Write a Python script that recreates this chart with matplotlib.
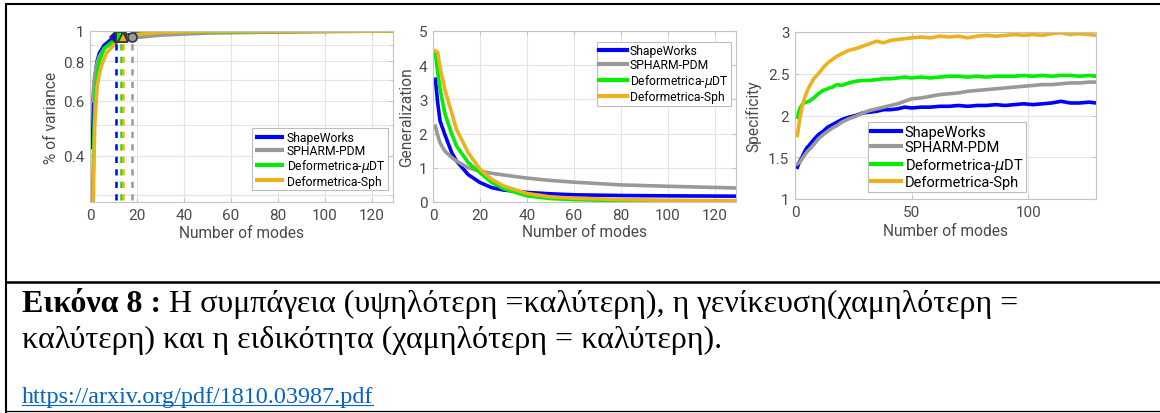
import matplotlib
matplotlib.use('Agg')
import matplotlib.pyplot as plt
import matplotlib.ticker as mticker

# ---------------- data ----------------
series_names = ['ShapeWorks', 'SPHARM-PDM', 'Deformetrica-$\\mu$DT', 'Deformetrica-Sph']
series_colors = ['#0000ff', '#999999', '#00ee00', '#edb120']

# compactness: cumulative % of variance vs number of modes
comp_x_sw = [1, 1.5, 2, 3, 4, 6, 9, 11, 14, 20, 30, 50, 129]
comp_y_sw = [0.42, 0.60, 0.70, 0.80, 0.85, 0.90, 0.94, 0.955, 0.965, 0.98, 0.99, 0.997, 1.0]
comp_x_sp = [1, 2, 3, 4, 6, 10, 18, 30, 50, 70, 100, 129]
comp_y_sp = [0.59, 0.72, 0.79, 0.83, 0.88, 0.92, 0.95, 0.97, 0.985, 0.99, 0.995, 1.0]
comp_x_mu = [1, 2, 3, 4, 6, 10, 13, 20, 30, 50, 129]
comp_y_mu = [0.28, 0.58, 0.72, 0.80, 0.88, 0.93, 0.95, 0.975, 0.99, 0.995, 1.0]
comp_x_sph = [1, 2, 3, 4, 5, 7, 10, 12, 14, 20, 30, 50, 129]
comp_y_sph = [0.20, 0.50, 0.66, 0.73, 0.78, 0.85, 0.90, 0.93, 0.95, 0.975, 0.99, 0.997, 1.0]
# modes needed to reach 95 % of variance
cut_modes = [11, 18, 13, 14]
cut_level = 0.955
cut_markers = ['D', 'o', 's', '^']

# generalization
gen_x = [1, 2, 3, 5, 8, 10, 15, 20, 25, 30, 40, 50, 60, 80, 100, 129]
gen_sw = [3.59, 2.90, 2.37, 1.98, 1.44, 1.20, 0.80, 0.57, 0.42, 0.35, 0.28, 0.24, 0.21, 0.19, 0.18, 0.17]
gen_sp = [2.22, 1.95, 1.73, 1.49, 1.30, 1.20, 1.00, 0.90, 0.84, 0.79, 0.70, 0.63, 0.58, 0.50, 0.46, 0.41]
gen_mu = [4.35, 3.80, 3.30, 2.60, 1.98, 1.64, 1.15, 0.86, 0.57, 0.39, 0.18, 0.10, 0.07, 0.04, 0.02, 0.01]
gen_sph = [4.42, 4.37, 3.93, 3.30, 2.60, 2.12, 1.44, 0.96, 0.66, 0.47, 0.25, 0.15, 0.11, 0.07, 0.05, 0.04]

# specificity
spec_x = [1, 2, 3, 4, 5, 6, 8, 10, 12, 14, 16, 18, 20, 23, 26, 29, 32, 35, 38, 41, 44, 47,
          50, 54, 58, 62, 66, 70, 74, 78, 82, 86, 90, 94, 98, 102, 106, 110, 114, 118, 122, 126, 129]
spec_sw = [1.38, 1.45, 1.50, 1.56, 1.61, 1.64, 1.71, 1.77, 1.81, 1.86, 1.89, 1.92, 1.95, 1.98, 2.00,
           2.03, 2.04, 2.05, 2.07, 2.07, 2.08, 2.10, 2.09, 2.10, 2.10, 2.11, 2.11, 2.12, 2.11, 2.12,
           2.12, 2.13, 2.12, 2.13, 2.14, 2.13, 2.14, 2.15, 2.17, 2.15, 2.15, 2.16, 2.15]
spec_sp = [1.42, 1.44, 1.48, 1.52, 1.56, 1.59, 1.65, 1.72, 1.77, 1.81, 1.85, 1.88, 1.92, 1.96, 1.99,
           2.03, 2.06, 2.08, 2.10, 2.12, 2.14, 2.17, 2.20, 2.21, 2.23, 2.25, 2.26, 2.27, 2.29, 2.30,
           2.31, 2.32, 2.33, 2.34, 2.35, 2.36, 2.37, 2.37, 2.38, 2.39, 2.39, 2.40, 2.40]
spec_mu = [1.98, 2.08, 2.13, 2.15, 2.16, 2.17, 2.21, 2.26, 2.30, 2.32, 2.34, 2.37, 2.36, 2.39, 2.41,
           2.42, 2.42, 2.43, 2.44, 2.44, 2.45, 2.46, 2.45, 2.46, 2.45, 2.46, 2.47, 2.47, 2.46, 2.47,
           2.46, 2.47, 2.47, 2.47, 2.48, 2.47, 2.48, 2.47, 2.48, 2.48, 2.47, 2.48, 2.47]
spec_sph = [1.76, 1.95, 2.10, 2.20, 2.28, 2.34, 2.44, 2.50, 2.57, 2.63, 2.67, 2.71, 2.74, 2.78, 2.80,
            2.83, 2.86, 2.89, 2.87, 2.90, 2.91, 2.92, 2.93, 2.94, 2.93, 2.95, 2.94, 2.95, 2.93, 2.95,
            2.96, 2.95, 2.96, 2.97, 2.96, 2.97, 2.96, 2.98, 2.99, 2.97, 2.98, 2.97, 2.96]

xlabel_text = 'Number of modes'
ylabels = ['% of variance', 'Generalization', 'Specificity']

caption_bold = 'Εικόνα 8 :'
caption_rest1 = ' Η συμπάγεια (υψηλότερη =καλύτερη), η γενίκευση(χαμηλότερη ='
caption_line2 = 'καλύτερη) και η ειδικότητα (χαμηλότερη = καλύτερη).'
link_text = 'https://arxiv.org/pdf/1810.03987.pdf'

# ---------------- figure ----------------
W, H = 1160, 414
fig = plt.figure(figsize=(W / 100, H / 100), dpi=100)
plt.rcParams['font.family'] = ['Roboto', 'DejaVu Sans']

TXT = '#4a4a4a'
SPINE = '#c4c4c4'
GRID = '#e4e4e4'
TICK_FS = 11
LAB_FS = 11.2


def add_ax(left, right, top, bottom):
    return fig.add_axes([left / W, 1 - bottom / H, (right - left) / W, (bottom - top) / H])


def style(ax, ylabel, ylab_dx, xlab_dy):
    for s in ax.spines.values():
        s.set_color(SPINE)
        s.set_linewidth(0.8)
    ax.tick_params(which='both', direction='in', colors=SPINE, labelcolor=TXT,
                   labelsize=TICK_FS, top=True, right=True, length=3, pad=4)
    ax.tick_params(which='minor', length=2)
    ax.grid(True, which='major', color=GRID, lw=0.8)
    ax.set_axisbelow(True)
    ax.set_xlabel(xlabel_text, fontsize=LAB_FS, color=TXT)
    ax.set_ylabel(ylabel, fontsize=LAB_FS, color=TXT)
    bb = ax.get_position()
    wpx = bb.width * W
    hpx = bb.height * H
    ax.yaxis.label.set_va('center')
    ax.xaxis.label.set_va('center')
    ax.yaxis.set_label_coords(-ylab_dx / wpx, 0.5)
    ax.xaxis.set_label_coords(0.5, -xlab_dy / hpx)


def make_legend(ax, fs, hl, ls, **kw):
    leg = ax.legend(fontsize=fs, handlelength=hl, handletextpad=0.25, labelspacing=ls,
                    borderpad=0.2, borderaxespad=0, fancybox=False, edgecolor='#bdbdbd',
                    framealpha=1, **kw)
    leg.get_frame().set_linewidth(0.8)
    for h in leg.get_lines():
        h.set_linewidth(3)
    return leg


# ---- background frame & caption ----
bg = fig.add_axes([0, 0, 1, 1])
bg.set_xlim(0, W)
bg.set_ylim(H, 0)
bg.axis('off')
bg.plot([6, 6], [4, H], color='k', lw=1.5, solid_capstyle='butt')
bg.plot([5, W], [5, 5], color='k', lw=1.5, solid_capstyle='butt')
bg.plot([5, W], [283, 283], color='k', lw=1.8, solid_capstyle='butt')
bg.plot([5, W], [412.5, 412.5], color='k', lw=0.9, solid_capstyle='butt')

serif = ['Liberation Serif', 'DejaVu Serif']
cap_fs = 23.0
tb = bg.text(22, 312, caption_bold, fontsize=cap_fs, fontweight='bold', family=serif,
             va='baseline', ha='left', color='k')
fig.canvas.draw()
r = fig.canvas.get_renderer()
wb = tb.get_window_extent(r).width
bg.text(22 + wb, 312, caption_rest1, fontsize=cap_fs, family=serif, va='baseline', ha='left', color='k')
bg.text(22, 348, caption_line2, fontsize=cap_fs, family=serif, va='baseline', ha='left', color='k')
tl = bg.text(22, 403, link_text, fontsize=17.4, family=serif, va='baseline', ha='left', color='#0563c1')
fig.canvas.draw()
wl = tl.get_window_extent(r).width
bg.plot([22, 22 + wl], [406.5, 406.5], color='#0563c1', lw=0.8)

LW = 2.6
# ---- axes 1: compactness ----
ax1 = add_ax(90, 393, 32, 203)
comp_xs = [comp_x_sw, comp_x_sp, comp_x_mu, comp_x_sph]
comp_ys = [comp_y_sw, comp_y_sp, comp_y_mu, comp_y_sph]
for xs, ys, c, n in zip(comp_xs, comp_ys, series_colors, series_names):
    ax1.plot(xs, ys, color=c, lw=LW, label=n, solid_capstyle='butt')
for m, c, mk in zip(cut_modes, series_colors, cut_markers):
    ax1.plot([m, m], [0.2, cut_level], color=c, lw=1.8, ls=(0, (2.5, 2.5)))
for m, c, mk in zip(cut_modes, series_colors, cut_markers):
    ax1.plot([m], [cut_level], marker=mk, color=c, mec='#333333', mew=1.2, ms=6.5, ls='none')
ax1.set_yscale('log')
ax1.set_xlim(0, 129)
ax1.set_ylim(0.285, 1.0)
ax1.set_yticks([0.4, 0.6, 0.8, 1.0])
ax1.set_yticks([0.3, 0.5, 0.7, 0.9], minor=True)
ax1.yaxis.set_major_formatter(mticker.FixedFormatter(['0.4', '0.6', '0.8', '1']))
ax1.yaxis.set_minor_formatter(mticker.NullFormatter())
ax1.set_xticks([0, 20, 40, 60, 80, 100, 120])
style(ax1, ylabels[0], 38, 31)
ax1.grid(True, which='minor', axis='y', color=GRID, lw=0.8)
make_legend(ax1, 8.7, 2.4, 0.02, loc='lower right', bbox_to_anchor=(0.982, 0.07))

# ---- axes 2: generalization ----
ax2 = add_ax(433, 736, 32, 203)
for ys, c, n in zip([gen_sw, gen_sp, gen_mu, gen_sph], series_colors, series_names):
    ax2.plot(gen_x, ys, color=c, lw=LW, label=n)
ax2.set_xlim(0, 129)
ax2.set_ylim(0, 5)
ax2.set_xticks([0, 20, 40, 60, 80, 100, 120])
ax2.set_yticks([0, 1, 2, 3, 4, 5])
style(ax2, ylabels[1], 26, 30)
make_legend(ax2, 8.7, 2.3, 0.08, loc='upper right', bbox_to_anchor=(0.983, 0.936))

# ---- axes 3: specificity ----
ax3 = add_ax(795, 1096, 33, 200)
for ys, c, n in zip([spec_sw, spec_sp, spec_mu, spec_sph], series_colors, series_names):
    ax3.plot(spec_x, ys, color=c, lw=LW, label=n)
ax3.set_xlim(0, 129)
ax3.set_ylim(1, 3)
ax3.set_xticks([0, 50, 100])
ax3.set_yticks([1, 1.5, 2, 2.5, 3])
ax3.yaxis.set_major_formatter(mticker.FixedFormatter(['1', '1.5', '2', '2.5', '3']))
style(ax3, ylabels[2], 42, 32)
make_legend(ax3, 10.5, 2.05, 0.1, loc='lower left', bbox_to_anchor=(0.243, 0.042))

fig.savefig('out.png', dpi=100)
